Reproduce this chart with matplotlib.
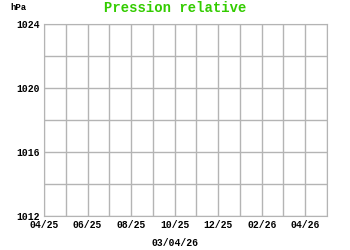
import matplotlib
matplotlib.use('Agg')
import matplotlib.pyplot as plt

# axis data (no series in the reference, only the frame)
months = ['04/25','05/25','06/25','07/25','08/25','09/25','10/25','11/25',
          '12/25','01/26','02/26','03/26','04/26','05/26']
ylevels = [1012, 1014, 1016, 1018, 1020, 1022, 1024]
ylabels = [1012, 1016, 1020, 1024]
title = 'Pression relative'
unit = 'hPa'
date_str = '03/04/26'

plt.rcParams['font.family'] = ['Liberation Mono', 'DejaVu Sans Mono']
plt.rcParams['font.weight'] = 'bold'

fig = plt.figure(figsize=(3.5, 2.5), dpi=100)
ax = fig.add_axes([44/350, 34/250, 283/350, 192/250])
xs = list(range(len(months)))
ax.set_xlim(xs[0], xs[-1])
ax.set_ylim(ylevels[0], ylevels[-1])
ax.set_xticks(xs)
ax.set_xticklabels([m if i % 2 == 0 else '' for i, m in enumerate(months)])
ax.set_yticks(ylevels)
ax.set_yticklabels([str(v) if v in ylabels else '' for v in ylevels])
ax.grid(True, color='#b4b4b4', linewidth=1)
for s in ax.spines.values():
    s.set_color('#b4b4b4')
ax.tick_params(length=0, labelsize=7, pad=3)
for lab in ax.get_xticklabels() + ax.get_yticklabels():
    lab.set_fontweight('bold')

fig.text(175/350, 1 - 8/250, title, color='#33cc00', fontsize=10,
         fontweight='bold', ha='center', va='center')
fig.text(10/350, 1 - 7/250, unit, fontsize=6.5, fontweight='bold', ha='left', va='center')
fig.text(175/350, 1 - 243/250, date_str, fontsize=7, fontweight='bold', ha='center', va='center')

fig.savefig('out.png', dpi=100)
